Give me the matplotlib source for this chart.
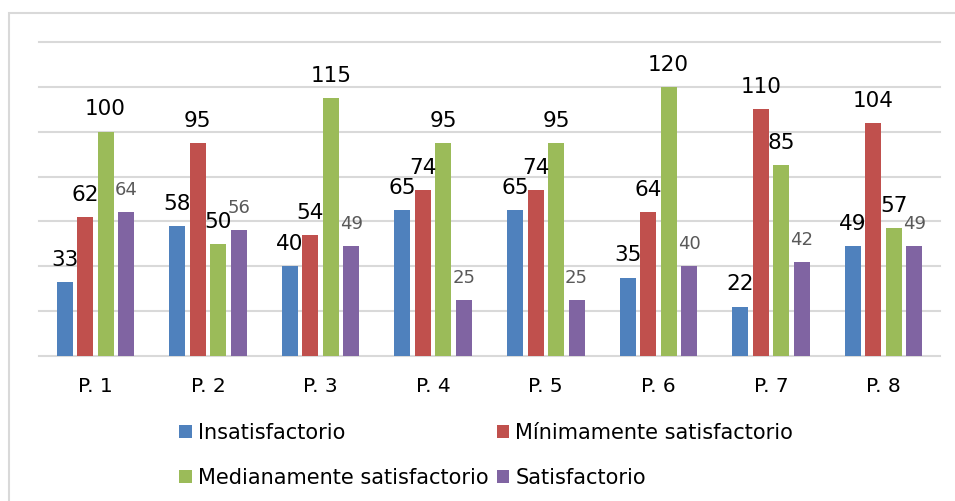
import numpy as np
import matplotlib
matplotlib.use('Agg')
import matplotlib.pyplot as plt
from matplotlib.patches import Rectangle

# data
categories = ['P. 1', 'P. 2', 'P. 3', 'P. 4', 'P. 5', 'P. 6', 'P. 7', 'P. 8']
insatisfactorio = [33, 58, 40, 65, 65, 35, 22, 49]
minimamente = [62, 95, 54, 74, 74, 64, 110, 104]
medianamente = [100, 50, 115, 95, 95, 120, 85, 57]
satisfactorio = [64, 56, 49, 25, 25, 40, 42, 49]

series_names = ['Insatisfactorio', 'Mínimamente satisfactorio',
                'Medianamente satisfactorio', 'Satisfactorio']
series_values = [insatisfactorio, minimamente, medianamente, satisfactorio]
colors = ['#4F81BD', '#C0504D', '#9BBB59', '#8064A2']

fig = plt.figure(figsize=(9.55, 5.01), dpi=100)
ax = fig.add_axes([39 / 955, 1 - 356 / 501, 901 / 955, 314 / 501])

# chart border (clipped by the image on the right / bottom)
fig.patches.append(Rectangle((9 / 955, -0.1), 1.2, 1 - 13 / 501 + 0.1,
                             transform=fig.transFigure, fill=False,
                             edgecolor='#D9D9D9', linewidth=1.5))

x = np.arange(len(categories))
pitch = 0.182
width = 0.143

handles = []
for i, (name, vals, c) in enumerate(zip(series_names, series_values, colors)):
    pos = x + (i - 1.5) * pitch
    b = ax.bar(pos, vals, width=width, color=c, label=name, zorder=3)
    handles.append(b)
    if name == 'Satisfactorio':
        fs, tc = 13, '#595959'
    else:
        fs, tc = 15.5, 'black'
    for px, v in zip(pos, vals):
        ax.annotate(str(v), (px, v), xytext=(0, 16), textcoords='offset points',
                    ha='center', va='center', fontsize=fs, color=tc, zorder=4)

ax.set_ylim(0, 140)
ax.set_xlim(-0.5, len(categories) - 0.5)
ax.set_yticks(np.arange(0, 141, 20))
ax.yaxis.grid(True, color='#D9D9D9', linewidth=1.5, zorder=0)
for gl in ax.get_ygridlines():
    gl.set_clip_on(False)
ax.set_axisbelow(True)
ax.tick_params(axis='y', left=False, labelleft=False)
ax.tick_params(axis='x', length=0, pad=15, labelsize=14.5)
ax.set_xticks(x)
ax.set_xticklabels(categories)
for s in ax.spines.values():
    s.set_visible(False)

# legend filled row by row like the original
order = [0, 2, 1, 3]
leg = fig.legend(handles=[handles[k] for k in order], loc='upper left', ncol=2,
                 bbox_to_anchor=(179 / 955, 1 - 423 / 501), frameon=False,
                 fontsize=15, handlelength=0.6, handleheight=0.6,
                 handletextpad=0.3, columnspacing=0.4, labelspacing=1.2,
                 borderaxespad=0, borderpad=0)

fig.savefig('out.png', dpi=100)
